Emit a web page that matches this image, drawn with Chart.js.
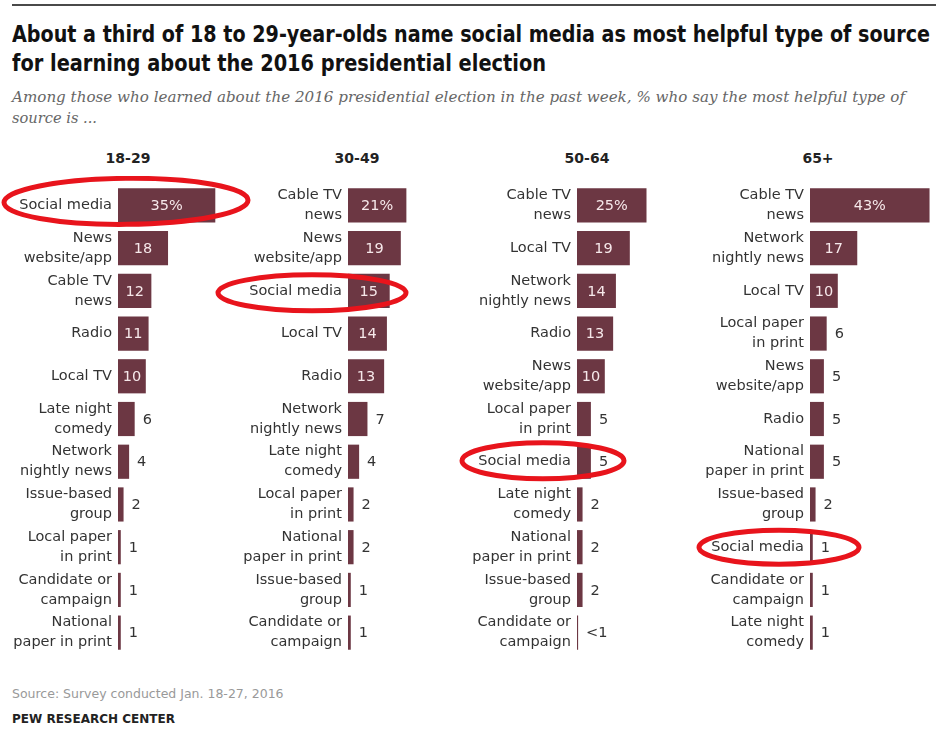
<!DOCTYPE html>
<html>
<head>
<meta charset="utf-8">
<title>Most helpful source by age</title>
<script src="https://cdn.jsdelivr.net/npm/chart.js@4.4.1/dist/chart.umd.min.js"></script>
<style>
html, body { margin: 0; padding: 0; background: #fff; width: 936px; height: 745px; overflow: hidden; }
#page { position: relative; width: 936px; height: 745px; font-family: "DejaVu Sans", sans-serif; }
.rule { position: absolute; left: 12px; top: 4px; width: 924px; height: 2px; background: #4a4a4a; }
.fit { position: absolute; left: 12px; white-space: nowrap; transform-origin: 0 0; }
.title { font-family: "Liberation Sans Narrow", "DejaVu Sans Condensed", sans-serif; font-weight: bold; font-size: 23px; line-height: 29px; color: #111; }
.subtitle { font-family: "DejaVu Serif", serif; font-style: italic; font-size: 14.5px; line-height: 21px; color: #666; }
.head { position: absolute; top: 149px; width: 120px; margin-left: -60px; text-align: center; font-weight: bold; font-size: 14px; line-height: 18px; color: #222; }
.panel { position: absolute; top: 176px; width: 279px; height: 486px; }
.source { position: absolute; left: 12px; top: 686px; font-size: 12.5px; color: #999; }
.pew { position: absolute; left: 12px; top: 712px; font-size: 12px; font-weight: bold; color: #222; }
</style>
</head>
<body>
<div id="page">
  <div class="rule"></div>
  <div class="fit title" style="top:20px" data-w="918">About a third of 18 to 29-year-olds name social media as most helpful type of source</div>
  <div class="fit title" style="top:49px" data-w="534">for learning about the 2016 presidential election</div>
  <div class="fit subtitle" style="top:87px" data-w="893">Among those who learned about the 2016 presidential election in the past week, % who say the most helpful type of</div>
  <div class="fit subtitle" style="top:108px" data-w="85">source is ...</div>
  <div class="head" style="left:128px">18-29</div>
  <div class="head" style="left:357px">30-49</div>
  <div class="head" style="left:587px">50-64</div>
  <div class="head" style="left:818px">65+</div>
  <div class="panel" style="left:-22px"><canvas id="c1" width="279" height="486"></canvas></div>
  <div class="panel" style="left:208px"><canvas id="c2" width="279" height="486"></canvas></div>
  <div class="panel" style="left:437px"><canvas id="c3" width="279" height="486"></canvas></div>
  <div class="panel" style="left:670px"><canvas id="c4" width="279" height="486"></canvas></div>
  <div class="source">Source: Survey conducted Jan. 18-27, 2016</div>
  <div class="pew">PEW RESEARCH CENTER</div>
</div>
<script>
// Data per age group, in display order
const sources1829 = ['Social media', 'News website/app', 'Cable TV news', 'Radio', 'Local TV', 'Late night comedy',
    'Network nightly news', 'Issue-based group', 'Local paper in print', 'Candidate or campaign', 'National paper in print'];
const values1829 = [35, 18, 12, 11, 10, 6, 4, 2, 1, 1, 1];

const sources3049 = ['Cable TV news', 'News website/app', 'Social media', 'Local TV', 'Radio', 'Network nightly news',
    'Late night comedy', 'Local paper in print', 'National paper in print', 'Issue-based group', 'Candidate or campaign'];
const values3049 = [21, 19, 15, 14, 13, 7, 4, 2, 2, 1, 1];

const sources5064 = ['Cable TV news', 'Local TV', 'Network nightly news', 'Radio', 'News website/app', 'Local paper in print',
    'Social media', 'Late night comedy', 'National paper in print', 'Issue-based group', 'Candidate or campaign'];
const values5064 = [25, 19, 14, 13, 10, 5, 5, 2, 2, 2, 0.4];

const sources65 = ['Cable TV news', 'Network nightly news', 'Local TV', 'Local paper in print', 'News website/app', 'Radio',
    'National paper in print', 'Issue-based group', 'Social media', 'Candidate or campaign', 'Late night comedy'];
const values65 = [43, 17, 10, 6, 5, 5, 5, 2, 1, 1, 1];

// How the longer labels wrap onto two lines
const labelLines = {
    'News website/app': ['News', 'website/app'],
    'Cable TV news': ['Cable TV', 'news'],
    'Late night comedy': ['Late night', 'comedy'],
    'Network nightly news': ['Network', 'nightly news'],
    'Issue-based group': ['Issue-based', 'group'],
    'Local paper in print': ['Local paper', 'in print'],
    'Candidate or campaign': ['Candidate or', 'campaign'],
    'National paper in print': ['National', 'paper in print']
};

const BAR_COLOR = '#6c3743';
const RING_COLOR = '#e8141c';

// Squeeze or stretch header lines to the width they have in the original
document.querySelectorAll('.fit').forEach(el => {
    const w = el.getBoundingClientRect().width;
    el.style.transform = 'scaleX(' + (Number(el.dataset.w) / w) + ')';
});

// Value labels: inside light for big bars, outside dark for small ones
const valueLabels = {
    id: 'valueLabels',
    afterDatasetsDraw(chart) {
        const ctx = chart.ctx;
        const values = chart.data.datasets[0].data;
        const meta = chart.getDatasetMeta(0);
        ctx.save();
        ctx.font = '14.5px "DejaVu Sans", sans-serif';
        ctx.textBaseline = 'middle';
        meta.data.forEach((bar, i) => {
            const v = values[i];
            let text = v < 1 ? '<1' : String(v);
            if (i === 0) text += '%';
            if (v >= 10) {
                ctx.fillStyle = '#f6e8ea';
                ctx.textAlign = 'center';
                ctx.fillText(text, (bar.base + bar.x) / 2, bar.y + 1);
            } else {
                ctx.fillStyle = '#333';
                ctx.textAlign = 'left';
                ctx.fillText(text, bar.x + 8, bar.y + 1);
            }
        });
        ctx.restore();
    }
};

// Hand-drawn style ring round the "Social media" row
const ring = {
    id: 'ring',
    afterDraw(chart, args, opts) {
        const idx = chart.data.labels.findIndex(l => l === 'Social media');
        if (idx < 0) return;
        const ctx = chart.ctx;
        const cx = chart.chartArea.left + opts.dx;
        const cy = chart.scales.y.getPixelForValue(idx) + opts.dy;
        ctx.save();
        ctx.strokeStyle = RING_COLOR;
        ctx.lineWidth = 5;
        ctx.beginPath();
        ctx.ellipse(cx, cy, opts.rx, opts.ry, opts.rot, 0, Math.PI * 2);
        ctx.stroke();
        ctx.restore();
    }
};

function makePanel(id, sources, values, ringOpts) {
    return new Chart(document.getElementById(id), {
        type: 'bar',
        data: {
            labels: sources,
            datasets: [{
                data: values,
                backgroundColor: BAR_COLOR,
                barPercentage: 0.8,
                categoryPercentage: 1
            }]
        },
        options: {
            indexAxis: 'y',
            responsive: false,
            animation: false,
            layout: { padding: { top: 8, bottom: 8, left: 0, right: 0 } },
            plugins: {
                legend: { display: false },
                tooltip: { enabled: false },
                ring: ringOpts
            },
            scales: {
                x: { display: false, min: 0, max: 50 },
                y: {
                    grid: { display: false, drawTicks: false },
                    border: { display: false },
                    ticks: {
                        autoSkip: false,
                        color: '#333',
                        padding: 6,
                        font: { family: '"DejaVu Sans", sans-serif', size: 14.5, lineHeight: 1.38 },
                        callback: function(value) {
                            const label = this.getLabelForValue(value);
                            return labelLines[label] || label;
                        }
                    },
                    afterFit(scale) {
                        scale.width = 140;
                        scale.paddingTop = 0;
                        scale.paddingBottom = 0;
                    }
                }
            }
        },
        plugins: [valueLabels, ring]
    });
}

makePanel('c1', sources1829, values1829, { dx: 8, dy: -4, rx: 122, ry: 23, rot: -0.01 });
makePanel('c2', sources3049, values3049, { dx: -36, dy: 2, rx: 94, ry: 18, rot: 0 });
makePanel('c3', sources5064, values5064, { dx: -34, dy: -1, rx: 81, ry: 18, rot: 0 });
makePanel('c4', sources65, values65, { dx: -31, dy: 0, rx: 80, ry: 17, rot: 0 });
</script>
</body>
</html>
